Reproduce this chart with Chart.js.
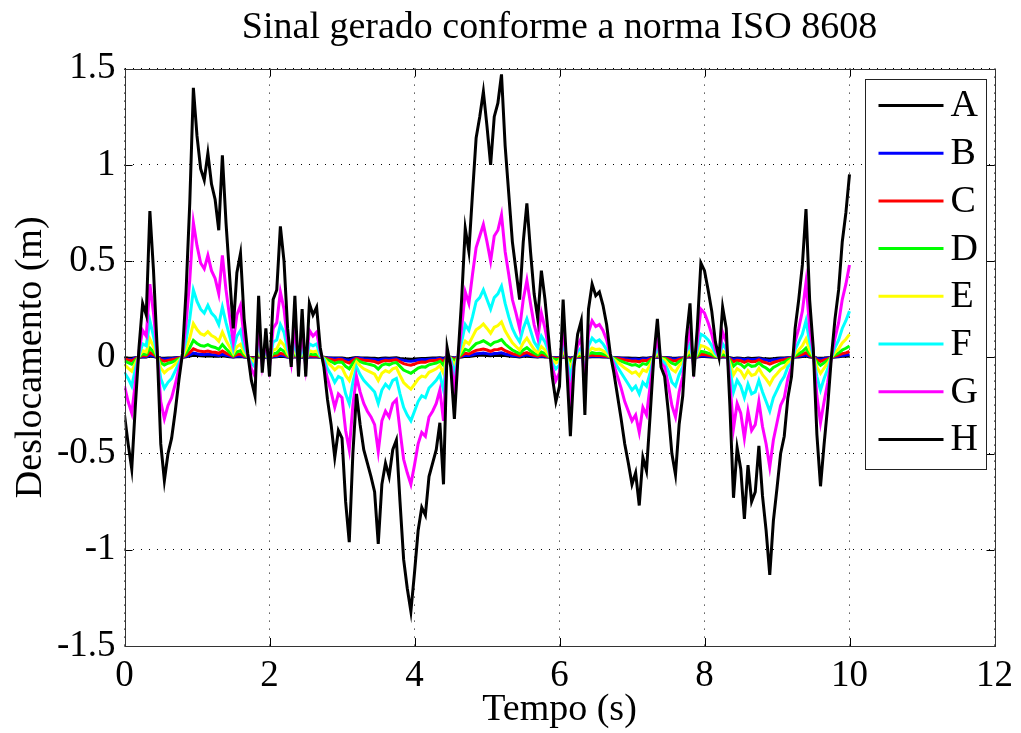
<!DOCTYPE html>
<html>
<head>
<meta charset="utf-8">
<title>Sinal gerado conforme a norma ISO 8608</title>
<script src="https://cdn.jsdelivr.net/npm/chart.js@4.4.0/dist/chart.umd.min.js"></script>
<style>
  html, body { margin: 0; padding: 0; background: #fff; }
  #wrap { width: 1021px; height: 733px; }
</style>
</head>
<body>
<div id="wrap"><canvas id="grafico" width="1021" height="733"></canvas></div>
<script>
// Amostragem do sinal (s)
const passo = 0.05;

const classes = ["A", "B", "C", "D", "E", "F", "G", "H"];
const cores = ["#000000", "#0000ff", "#ff0000", "#00ff00", "#ffff00", "#00ffff", "#ff00ff", "#000000"];

const ticksX = [0, 2, 4, 6, 8, 10, 12];
const ticksY = [-1.5, -1, -0.5, 0, 0.5, 1, 1.5];

// Deslocamento (m), uma lista por classe
const classeA = [
  -0.002,-0.004,-0.005,-0.002,0.000,0.002,0.002,0.006,0.004,0.000,
  -0.004,-0.005,-0.004,-0.003,-0.002,-0.001,0.000,0.003,0.006,0.011,
  0.009,0.008,0.007,0.008,0.007,0.006,0.005,0.008,0.005,0.003,
  0.001,0.003,0.004,0.002,0.000,-0.001,-0.002,0.003,-0.001,0.001,
  -0.001,0.002,0.003,0.005,0.004,0.001,0.000,0.003,-0.001,0.002,
  -0.001,0.002,0.002,0.002,0.000,0.000,-0.002,-0.003,-0.004,-0.003,
  -0.003,-0.006,-0.008,-0.004,-0.001,-0.003,-0.004,-0.004,-0.005,-0.005,
  -0.008,-0.005,-0.004,-0.005,-0.004,-0.003,-0.006,-0.008,-0.009,-0.010,
  -0.009,-0.007,-0.006,-0.006,-0.005,-0.004,-0.004,-0.003,-0.005,0.000,
  0.000,-0.003,0.000,0.002,0.005,0.004,0.007,0.009,0.010,0.011,
  0.009,0.008,0.010,0.010,0.011,0.009,0.007,0.005,0.004,0.002,
  0.005,0.006,0.004,0.003,0.002,0.004,0.002,0.001,-0.001,-0.002,
  -0.001,0.002,0.000,-0.003,0.000,0.001,0.001,-0.002,0.002,0.003,
  0.003,0.003,0.002,0.001,0.000,-0.001,-0.002,-0.003,-0.004,-0.004,
  -0.005,-0.005,-0.006,-0.004,-0.005,-0.002,0.000,0.002,0.000,-0.001,
  -0.002,-0.004,-0.005,-0.003,-0.002,0.001,0.002,-0.001,0.001,0.004,
  0.004,0.003,0.002,0.001,0.000,0.002,0.001,-0.002,-0.006,-0.004,
  -0.005,-0.007,-0.004,-0.006,-0.005,-0.004,-0.006,-0.007,-0.009,-0.007,
  -0.005,-0.004,-0.003,-0.002,-0.001,0.001,0.002,0.004,0.006,0.002,
  0.000,-0.003,-0.005,-0.004,-0.002,0.000,0.002,0.003,0.005,0.006,
  0.007
];
const classeB = [
  -0.005,-0.007,-0.009,-0.004,0.001,0.004,0.003,0.012,0.007,0.001,
  -0.007,-0.010,-0.008,-0.007,-0.004,-0.002,0.000,0.005,0.013,0.022,
  0.018,0.015,0.014,0.017,0.014,0.013,0.010,0.016,0.011,0.007,
  0.002,0.007,0.008,0.003,0.000,-0.002,-0.003,0.005,-0.001,0.002,
  -0.002,0.005,0.005,0.011,0.008,0.002,-0.001,0.005,-0.002,0.004,
  -0.002,0.004,0.003,0.004,0.001,-0.001,-0.003,-0.005,-0.008,-0.006,
  -0.007,-0.012,-0.015,-0.008,-0.003,-0.005,-0.008,-0.009,-0.010,-0.011,
  -0.015,-0.010,-0.009,-0.010,-0.008,-0.007,-0.012,-0.016,-0.019,-0.021,
  -0.018,-0.014,-0.012,-0.013,-0.010,-0.009,-0.008,-0.005,-0.010,0.001,
  -0.001,-0.005,0.000,0.005,0.010,0.009,0.013,0.018,0.020,0.022,
  0.019,0.016,0.020,0.021,0.023,0.017,0.013,0.009,0.007,0.005,
  0.009,0.013,0.009,0.005,0.003,0.007,0.005,0.002,-0.002,-0.004,
  -0.002,0.005,-0.001,-0.006,-0.001,0.002,0.003,-0.005,0.004,0.006,
  0.005,0.005,0.004,0.003,0.000,-0.001,-0.003,-0.005,-0.007,-0.009,
  -0.010,-0.009,-0.012,-0.008,-0.009,-0.005,0.000,0.003,-0.001,-0.002,
  -0.004,-0.008,-0.010,-0.005,-0.003,0.002,0.004,-0.002,0.002,0.008,
  0.007,0.005,0.004,0.001,0.000,0.004,0.002,-0.004,-0.011,-0.007,
  -0.009,-0.013,-0.009,-0.012,-0.011,-0.007,-0.011,-0.014,-0.018,-0.013,
  -0.011,-0.008,-0.006,-0.003,-0.002,0.002,0.005,0.008,0.012,0.005,
  0.001,-0.006,-0.010,-0.007,-0.004,0.000,0.003,0.005,0.009,0.012,
  0.015
];
const classeC = [
  -0.009,-0.014,-0.018,-0.008,0.002,0.009,0.007,0.024,0.014,0.002,
  -0.014,-0.020,-0.016,-0.013,-0.009,-0.004,0.001,0.011,0.025,0.044,
  0.036,0.031,0.029,0.033,0.028,0.026,0.021,0.033,0.022,0.013,
  0.005,0.014,0.017,0.006,0.001,-0.004,-0.006,0.010,-0.003,0.005,
  -0.003,0.009,0.011,0.021,0.016,0.005,-0.002,0.010,-0.003,0.008,
  -0.003,0.009,0.007,0.008,0.002,-0.002,-0.007,-0.011,-0.016,-0.012,
  -0.013,-0.023,-0.030,-0.016,-0.006,-0.011,-0.015,-0.017,-0.019,-0.022,
  -0.030,-0.021,-0.017,-0.019,-0.015,-0.013,-0.023,-0.033,-0.038,-0.041,
  -0.035,-0.028,-0.024,-0.026,-0.019,-0.017,-0.015,-0.011,-0.021,0.002,
  -0.002,-0.010,0.000,0.009,0.021,0.017,0.027,0.036,0.039,0.043,
  0.038,0.031,0.039,0.041,0.046,0.034,0.027,0.019,0.014,0.009,
  0.019,0.025,0.017,0.010,0.006,0.014,0.009,0.003,-0.003,-0.007,
  -0.005,0.009,-0.002,-0.013,-0.002,0.004,0.006,-0.009,0.008,0.012,
  0.010,0.011,0.008,0.005,0.001,-0.003,-0.006,-0.010,-0.014,-0.017,
  -0.021,-0.019,-0.024,-0.016,-0.018,-0.009,0.000,0.006,-0.002,-0.003,
  -0.009,-0.016,-0.019,-0.011,-0.006,0.003,0.009,-0.003,0.005,0.015,
  0.014,0.011,0.008,0.003,0.000,0.008,0.005,-0.008,-0.023,-0.015,
  -0.018,-0.026,-0.018,-0.023,-0.022,-0.014,-0.023,-0.028,-0.035,-0.027,
  -0.021,-0.016,-0.013,-0.007,-0.003,0.005,0.009,0.015,0.024,0.009,
  0.002,-0.013,-0.021,-0.014,-0.008,0.000,0.006,0.011,0.019,0.023,
  0.030
];
const classeD = [
  -0.019,-0.028,-0.036,-0.016,0.003,0.018,0.014,0.048,0.028,0.003,
  -0.028,-0.040,-0.031,-0.026,-0.018,-0.008,0.001,0.022,0.050,0.088,
  0.072,0.061,0.058,0.066,0.056,0.051,0.041,0.066,0.044,0.026,
  0.009,0.028,0.034,0.013,0.001,-0.008,-0.013,0.020,-0.005,0.009,
  -0.006,0.019,0.022,0.043,0.031,0.009,-0.003,0.020,-0.006,0.016,
  -0.006,0.018,0.014,0.016,0.003,-0.003,-0.014,-0.022,-0.033,-0.024,
  -0.026,-0.047,-0.060,-0.031,-0.012,-0.022,-0.030,-0.034,-0.039,-0.044,
  -0.061,-0.041,-0.034,-0.039,-0.030,-0.027,-0.047,-0.066,-0.075,-0.083,
  -0.070,-0.056,-0.049,-0.051,-0.039,-0.034,-0.030,-0.021,-0.041,0.003,
  -0.003,-0.020,0.000,0.019,0.042,0.034,0.053,0.071,0.078,0.086,
  0.075,0.063,0.078,0.083,0.092,0.069,0.053,0.038,0.028,0.019,
  0.038,0.050,0.034,0.021,0.013,0.028,0.019,0.006,-0.006,-0.014,
  -0.009,0.019,-0.003,-0.026,-0.003,0.008,0.012,-0.019,0.016,0.024,
  0.020,0.021,0.017,0.011,0.001,-0.005,-0.013,-0.020,-0.028,-0.034,
  -0.041,-0.038,-0.048,-0.033,-0.037,-0.019,0.000,0.013,-0.003,-0.006,
  -0.018,-0.031,-0.038,-0.022,-0.013,0.006,0.018,-0.006,0.009,0.031,
  0.028,0.022,0.015,0.005,0.000,0.016,0.009,-0.016,-0.046,-0.029,
  -0.036,-0.053,-0.035,-0.047,-0.044,-0.029,-0.045,-0.056,-0.071,-0.053,
  -0.043,-0.031,-0.026,-0.013,-0.006,0.009,0.019,0.030,0.048,0.019,
  0.003,-0.025,-0.042,-0.028,-0.016,0.000,0.013,0.022,0.038,0.047,
  0.059
];
const classeE = [
  -0.038,-0.056,-0.073,-0.031,0.006,0.035,0.028,0.095,0.056,0.006,
  -0.056,-0.080,-0.063,-0.053,-0.035,-0.015,0.003,0.044,0.100,0.175,
  0.144,0.123,0.115,0.133,0.113,0.103,0.083,0.131,0.088,0.053,
  0.019,0.055,0.068,0.025,0.003,-0.015,-0.025,0.040,-0.010,0.019,
  -0.013,0.038,0.044,0.085,0.063,0.019,-0.006,0.040,-0.013,0.031,
  -0.013,0.035,0.028,0.033,0.006,-0.006,-0.028,-0.044,-0.065,-0.048,
  -0.053,-0.094,-0.120,-0.063,-0.024,-0.044,-0.060,-0.069,-0.078,-0.088,
  -0.121,-0.083,-0.069,-0.078,-0.060,-0.054,-0.094,-0.131,-0.150,-0.165,
  -0.140,-0.113,-0.098,-0.103,-0.078,-0.069,-0.060,-0.043,-0.083,0.006,
  -0.006,-0.040,0.000,0.038,0.084,0.069,0.106,0.143,0.156,0.173,
  0.150,0.125,0.156,0.165,0.184,0.138,0.106,0.075,0.056,0.038,
  0.075,0.100,0.069,0.041,0.025,0.056,0.038,0.013,-0.013,-0.029,
  -0.019,0.038,-0.006,-0.051,-0.006,0.015,0.024,-0.038,0.031,0.048,
  0.040,0.043,0.034,0.021,0.003,-0.010,-0.025,-0.040,-0.056,-0.069,
  -0.083,-0.075,-0.096,-0.065,-0.074,-0.038,0.000,0.025,-0.006,-0.013,
  -0.035,-0.063,-0.076,-0.044,-0.025,0.013,0.035,-0.013,0.019,0.061,
  0.056,0.044,0.030,0.010,0.000,0.033,0.019,-0.031,-0.091,-0.059,
  -0.073,-0.105,-0.070,-0.094,-0.088,-0.058,-0.090,-0.113,-0.141,-0.106,
  -0.085,-0.063,-0.051,-0.026,-0.013,0.019,0.038,0.060,0.096,0.038,
  0.006,-0.050,-0.084,-0.056,-0.031,0.000,0.025,0.044,0.075,0.094,
  0.119
];
const classeF = [
  -0.08,-0.11,-0.15,-0.06,0.01,0.07,0.06,0.19,0.11,0.01,
  -0.11,-0.16,-0.13,-0.11,-0.07,-0.03,0.01,0.09,0.20,0.35,
  0.29,0.25,0.23,0.27,0.23,0.21,0.17,0.26,0.18,0.11,
  0.04,0.11,0.14,0.05,0.01,-0.03,-0.05,0.08,-0.02,0.04,
  -0.03,0.08,0.09,0.17,0.13,0.04,-0.01,0.08,-0.03,0.06,
  -0.03,0.07,0.06,0.07,0.01,-0.01,-0.06,-0.09,-0.13,-0.10,
  -0.11,-0.19,-0.24,-0.13,-0.05,-0.09,-0.12,-0.14,-0.16,-0.18,
  -0.24,-0.17,-0.14,-0.16,-0.12,-0.11,-0.19,-0.26,-0.30,-0.33,
  -0.28,-0.23,-0.20,-0.21,-0.16,-0.14,-0.12,-0.09,-0.17,0.01,
  -0.01,-0.08,0.00,0.08,0.17,0.14,0.21,0.29,0.31,0.35,
  0.30,0.25,0.31,0.33,0.37,0.28,0.21,0.15,0.11,0.08,
  0.15,0.20,0.14,0.08,0.05,0.11,0.08,0.03,-0.03,-0.06,
  -0.04,0.08,-0.01,-0.10,-0.01,0.03,0.05,-0.08,0.06,0.10,
  0.08,0.09,0.07,0.04,0.01,-0.02,-0.05,-0.08,-0.11,-0.14,
  -0.17,-0.15,-0.19,-0.13,-0.15,-0.08,0.00,0.05,-0.01,-0.03,
  -0.07,-0.13,-0.15,-0.09,-0.05,0.03,0.07,-0.03,0.04,0.12,
  0.11,0.09,0.06,0.02,0.00,0.07,0.04,-0.06,-0.18,-0.12,
  -0.15,-0.21,-0.14,-0.19,-0.18,-0.12,-0.18,-0.23,-0.28,-0.21,
  -0.17,-0.13,-0.10,-0.05,-0.03,0.04,0.08,0.12,0.19,0.08,
  0.01,-0.10,-0.17,-0.11,-0.06,0.00,0.05,0.09,0.15,0.19,
  0.24
];
const classeG = [
  -0.15,-0.23,-0.29,-0.13,0.03,0.14,0.11,0.38,0.23,0.03,
  -0.23,-0.32,-0.25,-0.21,-0.14,-0.06,0.01,0.18,0.40,0.70,
  0.58,0.49,0.46,0.53,0.45,0.41,0.33,0.53,0.35,0.21,
  0.08,0.22,0.27,0.10,0.01,-0.06,-0.10,0.16,-0.04,0.08,
  -0.05,0.15,0.18,0.34,0.25,0.08,-0.03,0.16,-0.05,0.13,
  -0.05,0.14,0.11,0.13,0.03,-0.03,-0.11,-0.18,-0.26,-0.19,
  -0.21,-0.38,-0.48,-0.25,-0.10,-0.18,-0.24,-0.28,-0.31,-0.35,
  -0.49,-0.33,-0.28,-0.31,-0.24,-0.22,-0.38,-0.53,-0.60,-0.66,
  -0.56,-0.45,-0.39,-0.41,-0.31,-0.28,-0.24,-0.17,-0.33,0.03,
  -0.03,-0.16,0.00,0.15,0.34,0.28,0.43,0.57,0.63,0.69,
  0.60,0.50,0.63,0.66,0.74,0.55,0.43,0.30,0.23,0.15,
  0.30,0.40,0.28,0.17,0.10,0.23,0.15,0.05,-0.05,-0.12,
  -0.08,0.15,-0.03,-0.21,-0.03,0.06,0.10,-0.15,0.13,0.19,
  0.16,0.17,0.14,0.09,0.01,-0.04,-0.10,-0.16,-0.23,-0.28,
  -0.33,-0.30,-0.39,-0.26,-0.30,-0.15,0.00,0.10,-0.03,-0.05,
  -0.14,-0.25,-0.31,-0.18,-0.10,0.05,0.14,-0.05,0.08,0.25,
  0.23,0.18,0.12,0.04,0.00,0.13,0.08,-0.13,-0.37,-0.24,
  -0.29,-0.42,-0.28,-0.38,-0.35,-0.23,-0.36,-0.45,-0.57,-0.43,
  -0.34,-0.25,-0.21,-0.11,-0.05,0.08,0.15,0.24,0.39,0.15,
  0.03,-0.20,-0.34,-0.23,-0.13,0.00,0.10,0.18,0.30,0.38,
  0.48
];
const classeH = [
  -0.30,-0.45,-0.58,-0.25,0.05,0.28,0.22,0.76,0.45,0.05,
  -0.45,-0.64,-0.50,-0.42,-0.28,-0.12,0.02,0.35,0.80,1.40,
  1.15,0.98,0.92,1.06,0.90,0.82,0.66,1.05,0.70,0.42,
  0.15,0.44,0.54,0.20,0.02,-0.12,-0.20,0.32,-0.08,0.15,
  -0.10,0.30,0.35,0.68,0.50,0.15,-0.05,0.32,-0.10,0.25,
  -0.10,0.28,0.22,0.26,0.05,-0.05,-0.22,-0.35,-0.52,-0.38,
  -0.42,-0.75,-0.96,-0.50,-0.19,-0.35,-0.48,-0.55,-0.62,-0.70,
  -0.97,-0.66,-0.55,-0.62,-0.48,-0.43,-0.75,-1.05,-1.20,-1.32,
  -1.12,-0.90,-0.78,-0.82,-0.62,-0.55,-0.48,-0.34,-0.66,0.05,
  -0.05,-0.32,0.00,0.30,0.67,0.55,0.85,1.14,1.25,1.38,
  1.20,1.00,1.25,1.32,1.47,1.10,0.85,0.60,0.45,0.30,
  0.60,0.80,0.55,0.33,0.20,0.45,0.30,0.10,-0.10,-0.23,
  -0.15,0.30,-0.05,-0.41,-0.05,0.12,0.19,-0.30,0.25,0.38,
  0.32,0.34,0.27,0.17,0.02,-0.08,-0.20,-0.32,-0.45,-0.55,
  -0.66,-0.60,-0.77,-0.52,-0.59,-0.30,0.00,0.20,-0.05,-0.10,
  -0.28,-0.50,-0.61,-0.35,-0.20,0.10,0.28,-0.10,0.15,0.49,
  0.45,0.35,0.24,0.08,0.00,0.26,0.15,-0.25,-0.73,-0.47,
  -0.58,-0.84,-0.56,-0.75,-0.70,-0.46,-0.72,-0.90,-1.13,-0.85,
  -0.68,-0.50,-0.41,-0.21,-0.10,0.15,0.30,0.48,0.77,0.30,
  0.05,-0.40,-0.67,-0.45,-0.25,0.00,0.20,0.35,0.60,0.75,
  0.95
];

const series = [classeA, classeB, classeC, classeD, classeE, classeF, classeG, classeH];

const fonte = "'Liberation Serif', 'Times New Roman', serif";
Chart.defaults.font.family = fonte;
Chart.defaults.font.size = 37;
Chart.defaults.color = "#000";

// Moldura, marcas internas dos eixos e legenda (estilo MATLAB)
const molduraPlugin = {
  id: "moldura",
  afterDraw(chart) {
    const ctx = chart.ctx;
    const area = chart.chartArea;
    const sx = chart.scales.x, sy = chart.scales.y;
    const tam = 8;
    ctx.save();
    ctx.strokeStyle = "#000";
    ctx.lineWidth = 1;
    ctx.beginPath();
    ticksX.forEach(function (v) {
      const px = Math.round(sx.getPixelForValue(v)) + 0.5;
      ctx.moveTo(px, area.bottom); ctx.lineTo(px, area.bottom - tam);
      ctx.moveTo(px, area.top); ctx.lineTo(px, area.top + tam);
    });
    ticksY.forEach(function (v) {
      const py = Math.round(sy.getPixelForValue(v)) + 0.5;
      ctx.moveTo(area.left, py); ctx.lineTo(area.left + tam, py);
      ctx.moveTo(area.right, py); ctx.lineTo(area.right - tam, py);
    });
    ctx.stroke();
    ctx.strokeStyle = "#333";
    ctx.strokeRect(Math.round(area.left) + 0.5, Math.round(area.top) + 0.5,
      Math.round(area.right - area.left), Math.round(area.bottom - area.top));

    // legenda
    const lx = Math.round(area.right - 130) + 0.5;
    const ly = Math.round(area.top + 10) + 0.5;
    const lw = 121, lh = 390;
    ctx.fillStyle = "#fff";
    ctx.fillRect(lx, ly, lw, lh);
    ctx.strokeStyle = "#222";
    ctx.strokeRect(lx, ly, lw, lh);
    ctx.font = "38px " + fonte;
    ctx.textBaseline = "middle";
    ctx.textAlign = "left";
    chart.data.datasets.forEach(function (ds, i) {
      const cy = ly + 26 + i * 47.7;
      ctx.strokeStyle = ds.borderColor;
      ctx.lineWidth = 3;
      ctx.beginPath();
      ctx.moveTo(lx + 13, cy);
      ctx.lineTo(lx + 78, cy);
      ctx.stroke();
      ctx.fillStyle = "#000";
      ctx.fillText(ds.label, lx + 85, cy + 1);
    });
    ctx.restore();
  }
};

const datasets = classes.map(function (nome, k) {
  return {
    label: nome,
    data: series[k].map(function (v, i) { return { x: i * passo, y: v }; }),
    borderColor: cores[k],
    backgroundColor: cores[k],
    borderWidth: 3,
    pointRadius: 0,
    tension: 0,
    fill: false,
    order: classes.length - 1 - k
  };
});

new Chart(document.getElementById("grafico"), {
  type: "line",
  data: { datasets: datasets },
  options: {
    responsive: false,
    animation: false,
    layout: { padding: { left: 0, right: 21.5, top: 0, bottom: 0 } },
    plugins: {
      legend: { display: false },
      tooltip: { enabled: false },
      title: {
        display: true,
        text: "Sinal gerado conforme a norma ISO 8608",
        fullSize: false,
        font: { size: 38, weight: "normal" },
        color: "#000",
        padding: { top: 5, bottom: 18 }
      }
    },
    scales: {
      x: {
        type: "linear",
        min: 0,
        max: 12,
        afterBuildTicks: function (scale) {
          scale.ticks = ticksX.map(function (v) { return { value: v }; });
        },
        afterFit: function (scale) { scale.height = 87; },
        ticks: { padding: 8, color: "#000", font: { size: 37 } },
        grid: { color: "#000", lineWidth: 1, drawTicks: false },
        border: { display: false, dash: [1, 7] },
        title: {
          display: true,
          text: "Tempo (s)",
          color: "#000",
          font: { size: 38 },
          padding: { top: 0, bottom: 0 }
        }
      },
      y: {
        type: "linear",
        min: -1.5,
        max: 1.5,
        afterBuildTicks: function (scale) {
          scale.ticks = ticksY.map(function (v) { return { value: v }; });
        },
        afterFit: function (scale) { scale.width = 124.5; },
        ticks: {
          padding: 9,
          color: "#000",
          font: { size: 37 },
          callback: function (v) { return String(v); }
        },
        grid: { color: "#000", lineWidth: 1, drawTicks: false },
        border: { display: false, dash: [1, 7] },
        title: {
          display: true,
          text: "Deslocamento (m)",
          color: "#000",
          font: { size: 38 },
          padding: { top: 8, bottom: 0 }
        }
      }
    }
  },
  plugins: [molduraPlugin]
});
</script>
</body>
</html>
